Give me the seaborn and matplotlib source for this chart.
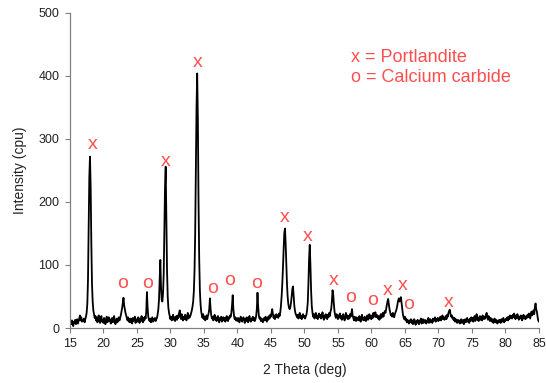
import numpy as np
import pandas as pd
import matplotlib
matplotlib.use("Agg")
import matplotlib.pyplot as plt
import seaborn as sns

# Varredura 15-85 graus, passo 0.1 (uma linha = 1 grau)
scan_start = 15.0
scan_step = 0.1
intensity = [
    4, 9, 6, 12, 7, 3, 10, 8, 13, 6,              # 15
    9, 14, 7, 11, 15, 20, 12, 17, 10, 13,         # 16
    11, 15, 9, 14, 18, 24, 38, 75, 160, 240,      # 17
    272, 225, 135, 70, 42, 28, 22, 16, 19, 12,    # 18
    17, 9, 14, 20, 11, 8, 15, 19, 10, 13,         # 19
    8, 16, 12, 6, 14, 18, 9, 12, 17, 11,          # 20
    14, 7, 11, 16, 9, 13, 19, 10, 6, 12,          # 21
    15, 9, 13, 17, 12, 16, 20, 26, 32, 40,        # 22
    48, 36, 30, 24, 20, 16, 12, 17, 10, 14,       # 23
    9, 15, 12, 7, 16, 11, 13, 18, 8, 12,          # 24
    14, 10, 17, 12, 8, 15, 11, 19, 13, 9,         # 25
    16, 12, 18, 15, 26, 57, 32, 18, 13, 11,       # 26
    15, 9, 13, 17, 10, 14, 12, 16, 11, 14,        # 27
    16, 22, 30, 45, 75, 108, 65, 45, 42, 55,      # 28
    85, 150, 225, 256, 175, 90, 50, 32, 24, 19,   # 29
    14, 18, 12, 16, 21, 13, 17, 11, 15, 19,       # 30
    13, 20, 16, 24, 28, 19, 14, 22, 17, 12,       # 31
    18, 14, 21, 16, 12, 19, 24, 15, 20, 17,       # 32
    20, 24, 28, 34, 42, 58, 90, 150, 250, 350,    # 33
    404, 330, 200, 110, 60, 38, 26, 20, 16, 22,   # 34
    14, 18, 12, 16, 20, 14, 19, 23, 30, 47,       # 35
    30, 20, 15, 18, 12, 16, 21, 13, 17, 11,       # 36
    15, 19, 12, 9, 16, 13, 18, 10, 14, 17,        # 37
    12, 16, 10, 14, 19, 13, 11, 17, 15, 20,       # 38
    18, 24, 36, 52, 30, 19, 14, 17, 12, 15,       # 39
    11, 16, 13, 9, 15, 18, 12, 10, 14, 17,        # 40
    13, 8, 15, 11, 17, 12, 9, 14, 19, 12,         # 41
    10, 15, 13, 18, 12, 16, 11, 14, 19, 30,       # 42
    56, 34, 20, 15, 17, 11, 15, 12, 9, 14,        # 43
    16, 12, 18, 14, 10, 17, 13, 19, 15, 21,       # 44
    18, 24, 30, 22, 16, 20, 14, 18, 22, 17,       # 45
    20, 16, 23, 19, 25, 35, 50, 70, 95, 125,      # 46
    150, 158, 135, 100, 70, 50, 38, 32, 30, 33,   # 47
    40, 50, 62, 66, 50, 35, 27, 22, 20, 17,       # 48
    21, 15, 19, 24, 16, 20, 14, 18, 22, 17,       # 49
    19, 15, 18, 21, 28, 40, 70, 110, 132, 100,    # 50
    60, 35, 25, 18, 22, 15, 19, 24, 16, 20,       # 51
    14, 18, 23, 17, 21, 15, 19, 25, 18, 13,       # 52
    20, 16, 22, 18, 14, 21, 17, 24, 19, 26,       # 53
    30, 42, 60, 54, 38, 26, 20, 16, 22, 18,       # 54
    14, 20, 17, 23, 15, 19, 13, 18, 22, 16,       # 55
    12, 18, 24, 16, 20, 14, 19, 15, 22, 18,       # 56
    22, 30, 20, 16, 12, 18, 14, 11, 17, 13,       # 57
    16, 12, 19, 14, 10, 17, 21, 13, 16, 12,       # 58
    18, 14, 11, 16, 20, 13, 17, 22, 15, 19,       # 59
    14, 20, 16, 24, 18, 22, 25, 17, 21, 19,       # 60
    15, 19, 13, 17, 22, 16, 20, 24, 18, 23,       # 61
    27, 24, 30, 36, 42, 46, 38, 30, 25, 20,       # 62
    22, 18, 24, 20, 17, 22, 25, 28, 32, 38,       # 63
    44, 47, 42, 46, 49, 40, 30, 22, 17, 14,       # 64
    18, 12, 15, 9, 13, 10, 7, 12, 9, 14,          # 65
    8, 12, 6, 10, 14, 9, 5, 11, 8, 13,            # 66
    10, 6, 12, 9, 15, 7, 11, 14, 8, 10,           # 67
    13, 9, 7, 12, 10, 16, 8, 11, 14, 9,           # 68
    12, 8, 15, 11, 13, 17, 10, 14, 12, 16,        # 69
    11, 15, 13, 18, 12, 16, 20, 14, 17, 13,       # 70
    16, 19, 14, 21, 18, 24, 27, 29, 22, 18,       # 71
    20, 15, 17, 12, 16, 10, 14, 11, 8, 13,        # 72
    9, 12, 7, 11, 14, 8, 10, 13, 6, 11,           # 73
    14, 9, 12, 16, 10, 13, 8, 15, 11, 17,         # 74
    12, 16, 10, 14, 19, 11, 15, 22, 13, 17,       # 75
    11, 15, 19, 13, 17, 12, 20, 16, 14, 18,       # 76
    15, 21, 24, 17, 13, 19, 15, 11, 16, 12,       # 77
    10, 14, 8, 12, 15, 9, 13, 11, 7, 12,          # 78
    9, 13, 11, 8, 14, 10, 12, 16, 9, 13,          # 79
    11, 15, 13, 17, 12, 18, 14, 20, 16, 19,       # 80
    15, 21, 17, 23, 18, 14, 20, 16, 22, 17,       # 81
    13, 18, 15, 20, 16, 12, 17, 21, 15, 19,       # 82
    14, 18, 16, 21, 17, 23, 19, 15, 22, 26,       # 83
    20, 24, 28, 22, 33, 39, 30, 26, 18, 12,       # 84
    10,                                           # 85
]

# Identificacao dos picos (x = Portlandita, o = carbeto de calcio)
mark_theta = [18.4, 22.9, 26.6, 29.3, 34.0, 36.3, 38.9, 42.9, 47.1, 50.5,
              54.3, 56.9, 60.2, 62.5, 64.7, 65.6, 71.6]
mark_height = [292, 70, 71, 265, 422, 63, 76, 70, 175, 146,
               75, 48, 43, 59, 68, 38, 40]
mark_symbol = ["x", "o", "o", "x", "x", "o", "o", "o", "x", "x",
               "x", "o", "o", "x", "x", "o", "x"]

legend_lines = ["x = Portlandite", "o = Calcium carbide"]

x_ticks = list(range(15, 90, 5))
y_ticks = list(range(0, 600, 100))

two_theta = np.round(scan_start + scan_step * np.arange(len(intensity)), 1)
df = pd.DataFrame({"two_theta": two_theta, "intensity": intensity})

sns.set_theme(style="ticks")
plt.rcParams["font.family"] = ["Liberation Sans", "DejaVu Sans"]

red = "#ff4f4f"
grey = "#808080"

fig = plt.figure(figsize=(5.46, 3.83), dpi=100)
ax = fig.add_axes([0.128, 0.1436, 0.859, 0.8225])

sns.lineplot(data=df, x="two_theta", y="intensity", color="black",
             linewidth=1.3, ax=ax)

for t, h, s in zip(mark_theta, mark_height, mark_symbol):
    ax.text(t, h, s, color=red, fontsize=14, ha="center", va="center")

ax.text(57.0, 430, legend_lines[0], color=red, fontsize=13, va="center")
ax.text(57.0, 397, legend_lines[1], color=red, fontsize=13, va="center")

ax.set_xlim(15, 85)
ax.set_ylim(0, 500)
ax.set_xticks(x_ticks)
ax.set_yticks(y_ticks)
ax.set_xlabel("2 Theta (deg)", fontsize=10, color="#222222", labelpad=9)
ax.set_ylabel("Intensity (cpu)", fontsize=10, color="#222222", labelpad=8)
ax.tick_params(axis="both", labelsize=9, labelcolor="#222222", color=grey,
               direction="out", length=3.5, width=0.8, pad=4)
for side in ["top", "right"]:
    ax.spines[side].set_visible(False)
for side in ["left", "bottom"]:
    ax.spines[side].set_color(grey)
    ax.spines[side].set_linewidth(0.9)

plt.savefig("out.png", dpi=100)
